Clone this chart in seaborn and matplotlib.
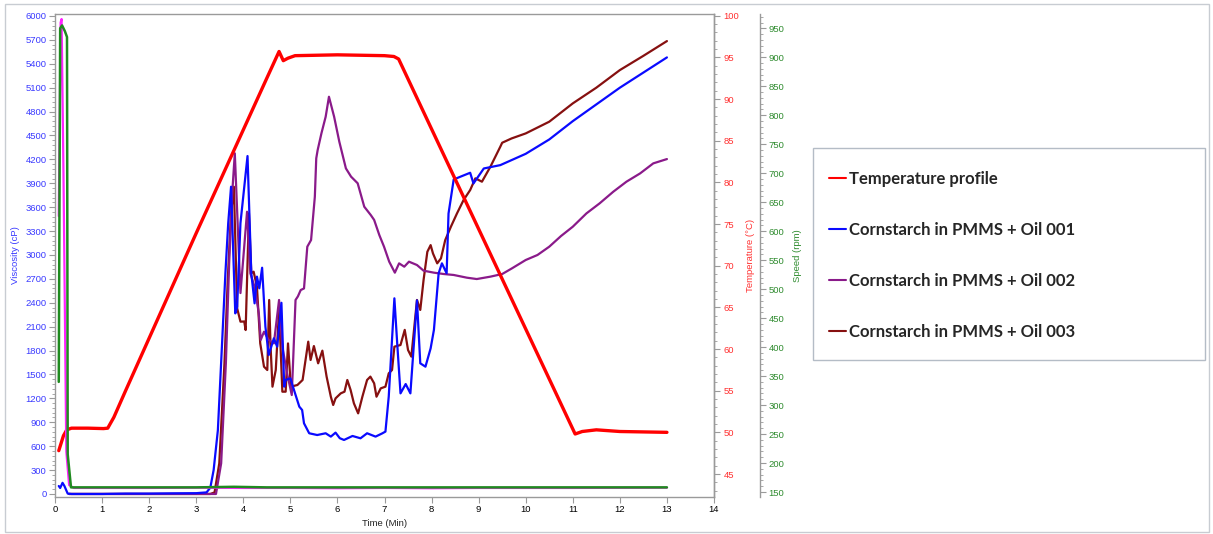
import matplotlib
matplotlib.use("Agg")
import matplotlib.pyplot as plt
import numpy as np
import pandas as pd
import seaborn as sns
from matplotlib.ticker import AutoMinorLocator
from matplotlib.lines import Line2D
from matplotlib.patches import Rectangle

# ---------------- data ----------------
temp_t = [0.08, 0.18, 0.25, 0.35, 0.7, 1.03, 1.12, 1.25, 1.5, 2.0, 2.5, 3.0, 3.5, 4.0, 4.5,
          4.76, 4.85, 4.95, 5.1, 6.0, 7.0, 7.2, 7.3, 8.0, 9.0, 10.0, 11.05, 11.2, 11.5, 12.0, 13.0]
temp_v = [47.8, 49.6, 50.3, 50.5, 50.5, 50.45, 50.5, 51.8, 55.0, 61.3, 67.6, 73.9, 80.1, 86.3, 92.5,
          95.7, 94.6, 94.9, 95.2, 95.3, 95.2, 95.1, 94.8, 86.4, 74.4, 62.4, 49.8, 50.1, 50.3, 50.1, 50.0]

oil1_t = [0.08, 0.11, 0.16, 0.2, 0.27, 0.35, 0.5, 1.0, 1.5, 2.0, 2.5, 3.0, 3.22, 3.3, 3.37, 3.46, 3.55,
          3.62, 3.68, 3.74, 3.83, 3.87, 3.94, 4.09, 4.17, 4.24, 4.29, 4.34, 4.40, 4.47, 4.54, 4.65,
          4.72, 4.81, 4.87, 4.90, 5.0, 5.08, 5.19, 5.25, 5.29, 5.40, 5.57, 5.75, 5.86, 5.96, 6.05,
          6.14, 6.32, 6.49, 6.63, 6.81, 6.95, 7.02, 7.09, 7.21, 7.27, 7.34, 7.45, 7.55, 7.69, 7.76,
          7.87, 7.98, 8.05, 8.15, 8.22, 8.32, 8.36, 8.47, 8.61, 8.82, 8.89, 9.11, 9.46, 10.0, 10.5,
          11.0, 11.5, 12.0, 12.5, 13.0]
oil1_v = [100, 75, 140, 100, 5, 0, 0, 0, 5, 5, 8, 10, 20, 80, 300, 800, 1900,
          2770, 3400, 3857, 2267, 2351, 3400, 4242, 2770, 2393, 2728, 2582, 2840, 2100, 1745, 1954,
          1849, 2400, 1347, 1431, 1452, 1300, 1096, 1054, 887, 762, 740, 762, 720, 770, 700,
          678, 728, 699, 762, 720, 760, 783, 1221, 2456, 1890, 1263, 1380, 1263, 2430, 1640,
          1598, 1828, 2060, 2770, 2895, 2770, 3520, 3948, 3982, 4032, 3898, 4086, 4128, 4270, 4450,
          4680, 4890, 5100, 5290, 5480]

oil2_t = [0.3, 1.0, 2.0, 3.0, 3.42, 3.53, 3.63, 3.70, 3.76, 3.82, 3.94, 4.08, 4.15, 4.24, 4.33, 4.37,
          4.44, 4.54, 4.65, 4.76, 4.83, 4.93, 5.03, 5.11, 5.16, 5.22, 5.29, 5.36, 5.44, 5.52, 5.55,
          5.58, 5.66, 5.75, 5.82, 5.93, 6.04, 6.18, 6.29, 6.43, 6.57, 6.71, 6.78, 6.89, 6.99, 7.10,
          7.22, 7.31, 7.42, 7.52, 7.69, 7.83, 8.05, 8.26, 8.47, 8.75, 8.96, 9.25, 9.5, 9.71, 10.0,
          10.25, 10.5, 10.75, 11.0, 11.29, 11.57, 11.86, 12.14, 12.43, 12.71, 13.0]
oil2_v = [0, 0, 0, 0, 0, 385, 1640, 2895, 3732, 4276, 2522, 3543, 2770, 2602, 2267, 1933,
          2037, 1933, 1891, 2435, 1849, 1515, 1242, 2435, 2480, 2560, 2580, 3104, 3188, 3731, 4213,
          4317, 4527, 4735, 4986, 4735, 4422, 4087, 3983, 3900, 3606, 3500, 3440, 3250, 3104, 2916,
          2778, 2895, 2853, 2916, 2874, 2803, 2778, 2761, 2749, 2715, 2698, 2728, 2761, 2833, 2937,
          3000, 3104, 3238, 3355, 3522, 3648, 3794, 3920, 4024, 4150, 4204]

oil3_t = [0.3, 1.0, 2.0, 3.0, 3.3, 3.39, 3.49, 3.6, 3.67, 3.74, 3.80, 3.87, 3.94, 4.02, 4.05, 4.12,
          4.17, 4.22, 4.29, 4.36, 4.44, 4.51, 4.55, 4.58, 4.62, 4.69, 4.76, 4.83, 4.90, 4.95, 5.01,
          5.15, 5.26, 5.38, 5.43, 5.50, 5.59, 5.68, 5.77, 5.86, 5.91, 5.96, 6.07, 6.15, 6.21, 6.28,
          6.35, 6.44, 6.53, 6.63, 6.70, 6.78, 6.83, 6.92, 7.02, 7.09, 7.16, 7.21, 7.34, 7.43, 7.50,
          7.57, 7.62, 7.69, 7.76, 7.83, 7.91, 7.98, 8.03, 8.12, 8.20, 8.29, 8.41, 8.54, 8.68, 8.82,
          8.93, 9.07, 9.25, 9.46, 9.5, 9.7, 10.0, 10.5, 11.0, 11.5, 12.0, 12.5, 13.0]
oil3_v = [0, 0, 0, 0, 0, 20, 385, 1640, 2686, 3522, 3857, 2330, 2163, 2165, 2058, 3523,
          2770, 2790, 2602, 1891, 1598, 1556, 2435, 1849, 1347, 1556, 2310, 1284, 1284, 1890, 1347,
          1368, 1431, 1912, 1682, 1857, 1640, 1799, 1473, 1221, 1117, 1200, 1263, 1284, 1431, 1305,
          1138, 1012, 1221, 1431, 1473, 1389, 1221, 1326, 1347, 1514, 1556, 1849, 1870, 2060, 1807,
          1724, 2018, 2435, 2310, 2686, 3040, 3124, 3019, 2895, 2958, 3187, 3354, 3522, 3690, 3815,
          3962, 3920, 4108, 4359, 4409, 4463, 4526, 4673, 4903, 5100, 5321, 5500, 5685]

speed1_t = [0.08, 0.11, 0.15, 0.21, 0.255, 0.27, 0.34, 1.0, 2.0, 3.0, 3.8, 4.5, 6.0, 8.0, 10.0, 13.0]
speed1_v = [340, 950, 955, 945, 935, 215, 158, 158, 158, 158, 159, 158, 158, 158, 158, 158]
speed2_t = [0.08, 0.12, 0.14, 0.18, 0.24, 0.30, 0.40, 1.0, 2.0, 3.0, 4.0, 5.0, 6.0, 7.0, 8.0, 9.0, 11.0, 13.0]
speed2_v = [626, 960, 966, 700, 220, 162, 157, 157, 157, 157.5, 157, 157, 156.5, 157, 156.5, 157, 157, 157.5]

labels = ["Temperature profile", "Cornstarch in PMMS + Oil 001",
          "Cornstarch in PMMS + Oil 002", "Cornstarch in PMMS + Oil 003"]
x_ticks = list(range(0, 15))
visc_ticks = list(range(0, 6001, 300))
temp_ticks = list(range(45, 101, 5))
speed_ticks = list(range(150, 951, 50))

# ---------------- style ----------------
sns.set_style("white")
plt.rcParams['font.family'] = ['Liberation Sans', 'DejaVu Sans']

C_RED = "#ff0000"
C_BLUE = "#0a0aff"
C_PURPLE = "#8a1a8a"
C_DRED = "#861010"
C_GREEN = "#1f8a1f"
C_MAG = "#ff22ff"
AX_GRAY = "#9a9a9a"
TK_BLUE = "#3a3aff"
TK_RED = "#ff3030"
TK_GREEN = "#2e8b2e"
FS = 6.8

W, H = 1213, 534
fig = plt.figure(figsize=(W / 100, H / 100), dpi=100)
ax = fig.add_axes([55 / W, 1 - 497 / H, (714 - 55) / W, (497 - 14) / H])
ax2 = ax.twinx()
ax3 = ax.twinx()
ax3.spines['right'].set_position(('axes', 1.07))

def df(t, v):
    return pd.DataFrame({"t": t, "v": v})

lw = 1.6
sns.lineplot(data=df(oil3_t, oil3_v), x="t", y="v", ax=ax, color=C_DRED, lw=lw, estimator=None, legend=False)
sns.lineplot(data=df(oil2_t, oil2_v), x="t", y="v", ax=ax, color=C_PURPLE, lw=lw, estimator=None, legend=False)
sns.lineplot(data=df(oil1_t, oil1_v), x="t", y="v", ax=ax, color=C_BLUE, lw=lw, estimator=None, legend=False)
sns.lineplot(data=df(temp_t, temp_v), x="t", y="v", ax=ax2, color=C_RED, lw=2.4, estimator=None, legend=False)
sns.lineplot(data=df(speed2_t, speed2_v), x="t", y="v", ax=ax3, color=C_MAG, lw=1.6, estimator=None, legend=False)
sns.lineplot(data=df(speed1_t, speed1_v), x="t", y="v", ax=ax3, color=C_GREEN, lw=1.8, estimator=None, legend=False)

# limits
ax.set_xlim(0, 14)
ax.set_ylim(-38, 6025)
ax2.set_ylim(42.24, 100.2)
ax3.set_ylim(141.4, 974.7)

# ticks
ax.set_xticks(x_ticks)
ax.set_yticks(visc_ticks)
ax2.set_yticks(temp_ticks)
ax3.set_yticks(speed_ticks)
for a in (ax, ax2, ax3):
    a.yaxis.set_minor_locator(AutoMinorLocator(5))

ax.tick_params(axis='x', which='major', bottom=True, direction='out', length=4, width=0.8,
               color=AX_GRAY, labelsize=FS, labelcolor='black', pad=2)
ax.tick_params(axis='y', which='major', left=True, direction='out', length=4, width=0.8,
               color=AX_GRAY, labelsize=FS, labelcolor=TK_BLUE, pad=2)
ax.tick_params(axis='y', which='minor', left=True, direction='out', length=2, width=0.6, color=AX_GRAY)
ax2.tick_params(axis='y', which='major', right=True, direction='out', length=4, width=0.8,
                color=AX_GRAY, labelsize=FS, labelcolor=TK_RED, pad=3)
ax2.tick_params(axis='y', which='minor', right=True, direction='out', length=2, width=0.6, color=AX_GRAY)
ax3.tick_params(axis='y', which='major', right=True, direction='out', length=4, width=0.8,
                color=AX_GRAY, labelsize=FS, labelcolor=TK_GREEN, pad=2)
ax3.tick_params(axis='y', which='minor', right=True, direction='out', length=2, width=0.6, color=AX_GRAY)

for a in (ax, ax2, ax3):
    for s in a.spines.values():
        s.set_color(AX_GRAY)
        s.set_linewidth(1.0)
for side in ('left', 'top', 'bottom'):
    ax3.spines[side].set_visible(False)
    ax2.spines[side].set_visible(False)

ax.set_xlabel("Time (Min)", fontsize=FS, color='#222222', labelpad=3)
ax.set_ylabel("Viscosity (cP)", fontsize=FS, color=TK_BLUE, labelpad=4)
ax2.set_ylabel("Temperature (°C)", fontsize=FS, color=TK_RED, labelpad=5)
ax3.set_ylabel("Speed (rpm)", fontsize=FS, color=TK_GREEN, labelpad=6)

# legend
handles = [Line2D([], [], color=c, lw=1.5) for c in (C_RED, C_BLUE, C_PURPLE, C_DRED)]
fig.legend(handles, labels, loc='upper left', bbox_to_anchor=(829 / W, 1 - 171 / H),
           frameon=False, borderpad=0, borderaxespad=0, handlelength=1.0, handletextpad=0.2,
           labelspacing=2.1, prop={'family': 'Lato', 'weight': 'bold', 'size': 12})
fig.add_artist(Rectangle((813 / W, 1 - 360 / H), 392 / W, 212 / H, transform=fig.transFigure,
                         fill=False, ec='#b4bcc6', lw=1.0))
fig.add_artist(Rectangle((5 / W, 2 / H), 1204 / W, 528 / H, transform=fig.transFigure,
                         fill=False, ec='#c8ccd2', lw=1.0))

fig.savefig("out.png", dpi=100)
